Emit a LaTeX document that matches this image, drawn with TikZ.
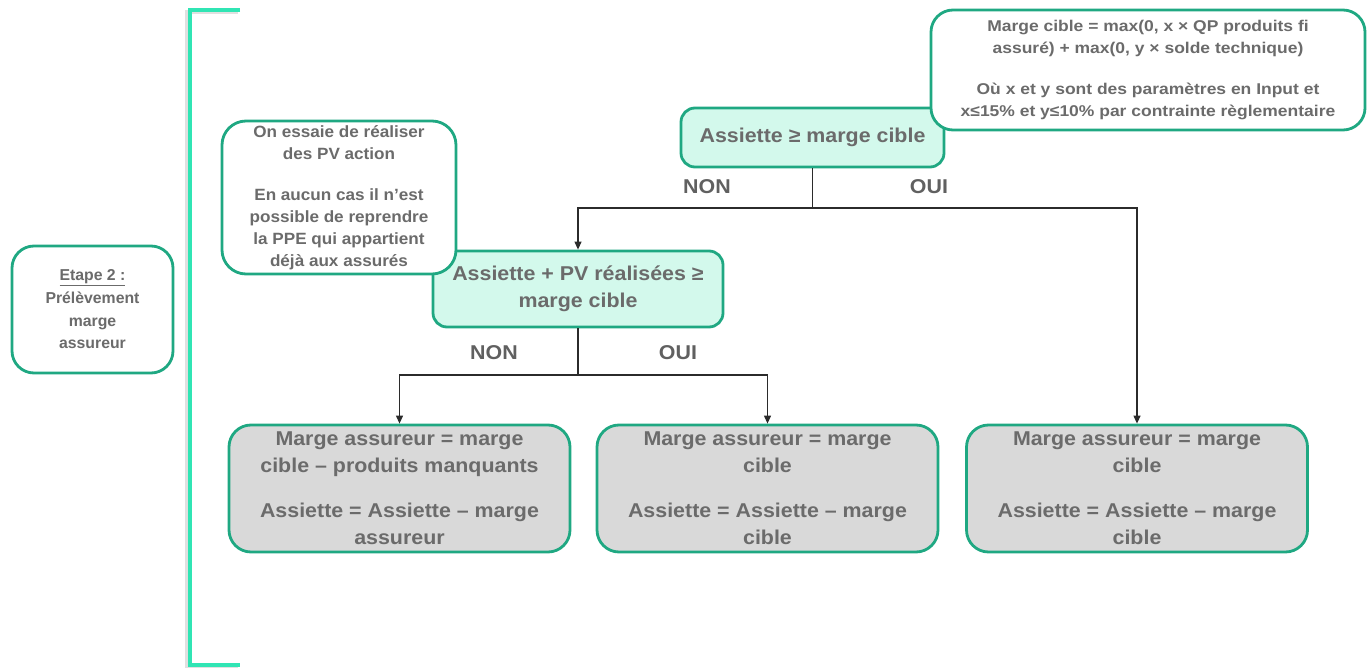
\documentclass[tikz,border=0pt]{standalone}
\usepackage{fontspec}
\setmainfont{Liberation Sans}
\newfontfamily\widesans{Liberation Sans}[FakeStretch=1.07]
\newfontfamily\formulasans{Liberation Sans}[FakeStretch=1.12]
\newfontfamily\notesans{Liberation Sans}[FakeStretch=1.05]
\usetikzlibrary{arrows.meta}
\definecolor{edge}{HTML}{1FA882}
\definecolor{mint}{HTML}{D3F9EC}
\definecolor{boxgray}{HTML}{D9D9D9}
\definecolor{bracket}{HTML}{30E5B4}
\definecolor{txt}{HTML}{6B6B6B}
\definecolor{wire}{HTML}{2B2B2B}
\begin{document}
\begin{tikzpicture}[x=1pt,y=-1pt,
  box/.style={draw=edge,line width=2.8pt,inner sep=0pt,align=center,text=txt},
  big/.style={font=\widesans\bfseries\fontsize{20pt}{27pt}\selectfont},
  mid/.style={font=\notesans\bfseries\fontsize{16.3pt}{22pt}\selectfont},
  stage/.style={font=\bfseries\fontsize{15.8pt}{22.7pt}\selectfont},
  small/.style={font=\formulasans\bfseries\fontsize{15.6pt}{21.5pt}\selectfont},
  decision/.style={box,big,fill=mint,rounded corners=14pt},
  result/.style={box,big,fill=boxgray,rounded corners=22pt,minimum width=341pt,minimum height=127pt},
  note/.style={box,fill=white,rounded corners=24pt},
  wire/.style={draw=wire,line width=1.2pt},
  arrow/.style={wire,-{Triangle[length=8pt,width=7pt]}},
  branch/.style={big,text=txt!90!black}
]
\useasboundingbox (0,0) rectangle (1372,668);

% stage bracket with a soft shadow
\draw[black!12,line width=4pt] (238,12) -- (187,12) -- (187,667) -- (238,667);
\draw[bracket,line width=4pt] (240,10) -- (190,10) -- (190,665) -- (240,665);

% stage label
\node[note,stage,rounded corners=22pt,minimum width=161pt,minimum height=127pt] (etape) at (92.5,309.5)
  {\underline{Etape 2 :}\\Prélèvement\\marge\\assureur};

% decisions
\node[decision,minimum width=263pt,minimum height=59pt] (d1) at (812.5,137.5) {Assiette ≥ marge cible};
\node[decision,minimum width=290pt,minimum height=76pt] (d2) at (578,289) {Assiette + PV réalisées ≥\\marge cible};

% outcomes
\node[result] (ra) at (399.5,488.5) {Marge assureur = marge\\cible – produits manquants\\[18pt]Assiette = Assiette – marge\\assureur};
\node[result] (rb) at (767.5,488.5) {Marge assureur = marge\\cible\\[18pt]Assiette = Assiette – marge\\cible};
\node[result] (rc) at (1137,488.5) {Marge assureur = marge\\cible\\[18pt]Assiette = Assiette – marge\\cible};

% comment boxes
\node[note,mid,minimum width=234pt,minimum height=153pt] (n1) at (339,197.5)
  {On essaie de réaliser\\des PV action\\[19pt]En aucun cas il n’est\\possible de reprendre\\la PPE qui appartient\\déjà aux assurés};
\node[note,small,rounded corners=22pt,minimum width=434pt,minimum height=120pt] (n2) at (1148,70)
  {Marge cible = max(0, x × QP produits fi\\assuré) + max(0, y × solde technique)\\[20pt]Où x et y sont des paramètres en Input et\\x≤15\% et y≤10\% par contrainte règlementaire};

% connectors
\coordinate (j1) at (812.5,208);
\coordinate (j2) at (578,375);
\draw[wire] (d1.south) -- (j1);
\draw[arrow] (j1) -| (d2.north);
\draw[arrow] (j1) -| (rc.north);
\draw[wire] (d2.south) -- (j2);
\draw[arrow] (j2) -| (ra.north);
\draw[arrow] (j2) -| (rb.north);

% branch labels
\node[branch] (non1) at (707,187) {NON};
\node[branch] (oui1) at (929,187) {OUI};
\node[branch] (non2) at (494,353) {NON};
\node[branch] (oui2) at (678,353) {OUI};
\end{tikzpicture}
\end{document}
